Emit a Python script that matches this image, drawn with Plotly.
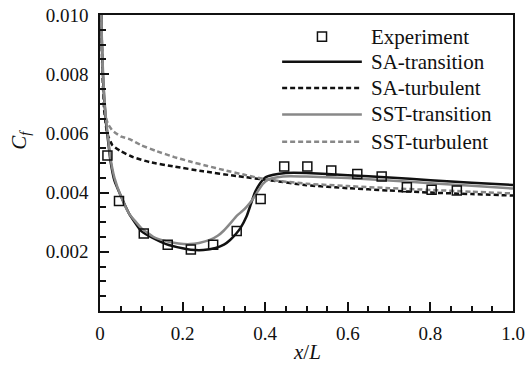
import plotly.graph_objects as go

# ---------------- data ----------------
exp_x = [0.018, 0.046, 0.106, 0.164, 0.220, 0.274, 0.331, 0.389, 0.446, 0.502,
         0.560, 0.623, 0.682, 0.743, 0.803, 0.864]
exp_y = [0.00525, 0.00372, 0.00262, 0.00224, 0.00208, 0.00224, 0.00270, 0.00378,
         0.00488, 0.00488, 0.00475, 0.00463, 0.00454, 0.00418, 0.00410, 0.00407]

sa_tr_x = [0.001, 0.003, 0.006, 0.010, 0.015, 0.020, 0.025, 0.035, 0.050, 0.070,
           0.100, 0.130, 0.160, 0.200, 0.220, 0.250, 0.280, 0.300, 0.315, 0.330,
           0.340, 0.355, 0.365, 0.375, 0.387, 0.400, 0.420, 0.450, 0.500, 0.600,
           0.700, 0.800, 0.900, 1.000]
sa_tr_y = [0.0130, 0.0100, 0.0083, 0.0072, 0.0063, 0.0057, 0.0051, 0.0044, 0.0039, 0.0033,
           0.0027, 0.00245, 0.00226, 0.00212, 0.00207, 0.00206, 0.00213, 0.00224, 0.0024, 0.00262,
           0.00280, 0.0032, 0.0036, 0.0040, 0.0043, 0.00451, 0.0046, 0.00466, 0.00466, 0.00459,
           0.00451, 0.00442, 0.00433, 0.00426]

sa_tu_x = [0.001, 0.003, 0.006, 0.010, 0.015, 0.020, 0.030, 0.050, 0.080, 0.120,
           0.180, 0.250, 0.330, 0.420, 0.500, 0.600, 0.700, 0.800, 0.900, 1.000]
sa_tu_y = [0.0130, 0.0100, 0.0080, 0.0068, 0.0062, 0.0059, 0.0056, 0.0054, 0.0052, 0.00503,
           0.00488, 0.00472, 0.00456, 0.0044, 0.00425, 0.00415, 0.00407, 0.0040, 0.00395, 0.0039]

sst_tr_x = [0.001, 0.003, 0.006, 0.010, 0.015, 0.020, 0.025, 0.035, 0.050, 0.070,
            0.100, 0.130, 0.160, 0.190, 0.218, 0.240, 0.266, 0.285, 0.300, 0.315,
            0.330, 0.345, 0.355, 0.368, 0.380, 0.395, 0.410, 0.430, 0.460, 0.500,
            0.600, 0.700, 0.800, 0.900, 1.000]
sst_tr_y = [0.0130, 0.0100, 0.0085, 0.0073, 0.0064, 0.0058, 0.0052, 0.0045, 0.0039, 0.0033,
            0.0028, 0.0025, 0.00236, 0.00228, 0.00226, 0.0023, 0.0024, 0.00254, 0.00272, 0.00295,
            0.0032, 0.00338, 0.00352, 0.00374, 0.0040, 0.0043, 0.00446, 0.00452, 0.00455, 0.00454,
            0.00449, 0.00441, 0.00432, 0.00423, 0.00414]

sst_tu_x = [0.001, 0.003, 0.006, 0.010, 0.015, 0.020, 0.030, 0.050, 0.073, 0.100,
            0.137, 0.180, 0.218, 0.260, 0.300, 0.350, 0.400, 0.450, 0.500, 0.600,
            0.700, 0.800, 0.900, 1.000]
sst_tu_y = [0.0130, 0.0100, 0.0082, 0.0071, 0.0065, 0.0063, 0.0061, 0.0059, 0.0058, 0.0056,
            0.0054, 0.0052, 0.00505, 0.0049, 0.00476, 0.0046, 0.00445, 0.00437, 0.0043, 0.00422,
            0.00415, 0.00409, 0.00403, 0.00397]

x_tickvals = [0, 0.2, 0.4, 0.6, 0.8, 1.0]
x_ticktext = ["0", "0.2", "0.4", "0.6", "0.8", "1.0"]
y_tickvals = [0.002, 0.004, 0.006, 0.008, 0.010]
y_ticktext = ["0.002", "0.004", "0.006", "0.008", "0.010"]

legend_names = ["Experiment", "SA-transition", "SA-turbulent", "SST-transition", "SST-turbulent"]

# ---------------- styles ----------------
BLACK = "#111111"
GRAY = "#888888"
FONT = "'Liberation Serif', 'Times New Roman', Times, serif"
LW = 2.5
DASH = "5px,3px"
SPL = dict(shape="spline", smoothing=0.4)

fig = go.Figure()
fig.add_trace(go.Scatter(x=sa_tr_x, y=sa_tr_y, mode="lines", name=legend_names[1],
                         line=dict(color=BLACK, width=LW, **SPL)))
fig.add_trace(go.Scatter(x=sa_tu_x, y=sa_tu_y, mode="lines", name=legend_names[2],
                         line=dict(color=BLACK, width=LW, dash=DASH, **SPL)))
fig.add_trace(go.Scatter(x=sst_tr_x, y=sst_tr_y, mode="lines", name=legend_names[3],
                         line=dict(color=GRAY, width=LW, **SPL)))
fig.add_trace(go.Scatter(x=sst_tu_x, y=sst_tu_y, mode="lines", name=legend_names[4],
                         line=dict(color=GRAY, width=LW, dash=DASH, **SPL)))
fig.add_trace(go.Scatter(x=exp_x, y=exp_y, mode="markers", name=legend_names[0],
                         marker=dict(symbol="square-open", size=9, color=BLACK,
                                     line=dict(width=1.5, color=BLACK)),
                         cliponaxis=False))

# ---------------- custom legend (long line samples) ----------------
leg_x0, leg_x1, leg_tx = 0.441, 0.634, 0.652
leg_rows = [0.927, 0.842, 0.753, 0.664, 0.572]
leg_styles = [None,
              dict(color=BLACK, width=LW),
              dict(color=BLACK, width=LW, dash=DASH),
              dict(color=GRAY, width=LW),
              dict(color=GRAY, width=LW, dash=DASH)]
for i, (name, yy) in enumerate(zip(legend_names, leg_rows)):
    if leg_styles[i] is None:
        cx = (leg_x0 + leg_x1) / 2
        fig.add_shape(type="rect", xref="paper", yref="paper",
                      x0=cx - 0.011, x1=cx + 0.011, y0=yy - 0.0155, y1=yy + 0.0155,
                      line=dict(color=BLACK, width=1.5), fillcolor="rgba(0,0,0,0)")
    else:
        fig.add_shape(type="line", xref="paper", yref="paper",
                      x0=leg_x0, x1=leg_x1, y0=yy, y1=yy, line=leg_styles[i])
    fig.add_annotation(xref="paper", yref="paper", x=leg_tx, y=yy, text=name,
                       showarrow=False, xanchor="left", yanchor="middle",
                       font=dict(family=FONT, size=21, color=BLACK))

# axis titles
fig.add_annotation(xref="paper", yref="paper", x=0.5, y=-0.138, text="<i>x</i>/<i>L</i>",
                   showarrow=False, xanchor="center", yanchor="middle",
                   font=dict(family=FONT, size=21, color=BLACK))
fig.add_annotation(xref="paper", yref="paper", x=-0.194, y=0.578,
                   text="<i>C</i><sub><i>f</i></sub>", textangle=-90,
                   showarrow=False, xanchor="center", yanchor="middle",
                   font=dict(family=FONT, size=21, color=BLACK))

axis_common = dict(showgrid=False, zeroline=False, showline=True, linecolor=BLACK,
                   linewidth=1.5, mirror=True, ticks="inside", tickcolor=BLACK,
                   tickwidth=1.5, automargin=False,
                   tickfont=dict(family=FONT, size=19, color=BLACK))

fig.update_xaxes(range=[0, 1.0], tickvals=x_tickvals, ticktext=x_ticktext, ticklen=9,
                 ticklabelstandoff=4,
                 minor=dict(dtick=0.05, tick0=0, ticks="inside", ticklen=5,
                            tickwidth=1.5, tickcolor=BLACK),
                 **axis_common)
fig.update_yaxes(range=[0, 0.010], tickvals=y_tickvals, ticktext=y_ticktext, ticklen=9,
                 ticklabelstandoff=6,
                 minor=dict(dtick=0.0005, tick0=0, ticks="inside", ticklen=6,
                            tickwidth=1.5, tickcolor=BLACK),
                 **axis_common)

fig.update_layout(width=528, height=374, showlegend=False,
                  margin=dict(l=100, r=15, t=15, b=63),
                  plot_bgcolor="white", paper_bgcolor="white",
                  font=dict(family=FONT, color=BLACK))

fig.write_html("out.html")
